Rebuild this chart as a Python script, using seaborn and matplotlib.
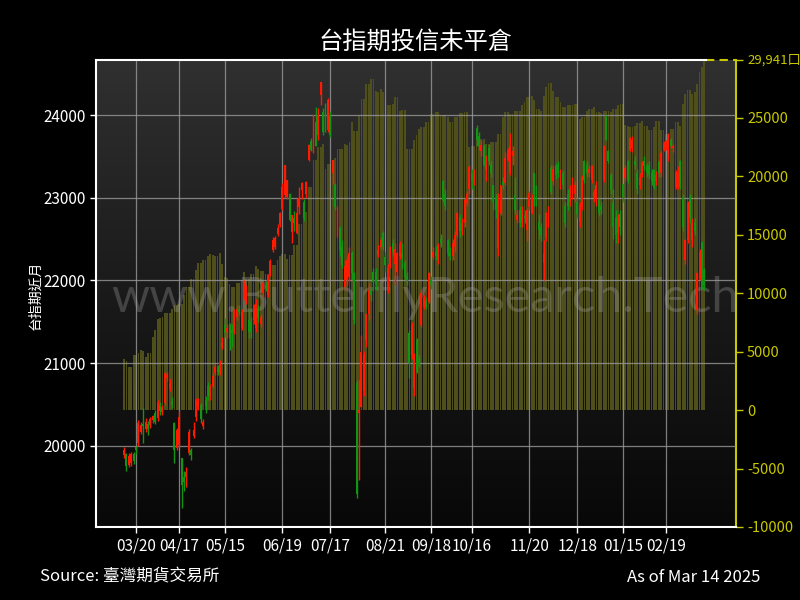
import numpy as np
import pandas as pd
import matplotlib
matplotlib.use("Agg")
import matplotlib.pyplot as plt
from matplotlib.colors import LinearSegmentedColormap
import seaborn as sns

# trading days of TAIEX futures, 2024-03-13 .. 2025-03-14
holidays = ["2024-04-04", "2024-04-05", "2024-05-01", "2024-06-10", "2024-07-24", "2024-07-25",
            "2024-09-17", "2024-10-02", "2024-10-03", "2024-10-10", "2024-10-31", "2025-01-01",
            "2025-01-23", "2025-01-24", "2025-01-27", "2025-01-28", "2025-01-29", "2025-01-30",
            "2025-01-31", "2025-02-28"]
tick_dates = ["2024-03-20", "2024-04-17", "2024-05-15", "2024-06-19", "2024-07-17", "2024-08-21",
              "2024-09-18", "2024-10-16", "2024-11-20", "2024-12-18", "2025-01-15", "2025-02-19"]
tick_labels = ["03/20", "04/17", "05/15", "06/19", "07/17", "08/21",
               "09/18", "10/16", "11/20", "12/18", "01/15", "02/19"]

"""台指期近月 OHLC"""
opens = [19890, 19900, 19770, 19800, 19900, 19990, 20040, 20170, 20260, 20200, 20260, 20250, 20310,
         20400, 20340, 20500, 20410, 20520, 20820, 20700, 20540, 20280, 19980, 20010, 19850, 19630, 19630, 19910, 19950, 20120, 20355, 20480, 20500,
         20240, 20560, 20730, 20600, 20720, 20880, 20960, 20880, 21200, 21460, 21380, 21460, 21400, 21380, 21560, 21660, 21420, 21785, 21800, 21520, 21500, 21520,
         21420, 21650, 21480, 21845, 21950, 21830, 22080, 22370, 22400, 22560, 22670, 22870, 23030, 23010, 23050, 22590, 22760, 22575, 22890,
         23090, 22950, 23050, 23460, 23680, 23560, 23920, 23760, 24240, 24040, 24100, 23820, 24000, 23295, 23150, 22570, 22635, 22400, 21925, 22000, 22045,
         22330, 22090, 20760, 20400, 20475, 20660, 21280, 21600, 21880, 22100, 22100, 22310, 22410, 22570, 22290, 21925, 22170, 22450, 22200, 22100, 22300, 22330,
         22210, 22050, 21360, 21100, 20700, 21280, 21050, 21460, 21680, 21760, 21745, 22000, 22290, 22350, 22250, 22500, 23200, 23050, 22490, 22350,
         22300, 22400, 22550, 22770, 22600, 22700, 22940, 23110, 23300, 23200, 23840, 23750, 23560, 23620, 23340, 23600, 23400, 23150, 23000,
         22390, 22810, 23200, 23175, 23460, 23295, 23500, 23030, 22730, 22850, 22700, 22780, 22610, 22890, 22820, 23300, 23100, 22710, 22650, 22210, 22530,
         22700, 23355, 23200, 23380, 23400, 23130, 23300, 22900, 23050, 22950, 23010, 23050, 22950, 22710, 22890, 23440, 23400, 23300, 23210, 23010, 23000, 22970,
         22900, 23210, 23980, 23560, 23270, 22940, 22750, 22570, 22800, 23170, 23235, 23440, 23580, 23600, 23450,
         23300, 23150, 23270, 23450, 23380, 23400, 23300, 23335, 23200, 23430, 23295, 23580, 23600, 23520, 23700, 23600, 23130, 23130, 23440,
         23000, 22250, 22490, 23010, 22490, 22700, 21640, 22030, 22450, 22130]
highs = [19990, 19920, 19920, 19930, 19930, 20000, 20320, 20290, 20460, 20340, 20300, 20350, 20380,
         20440, 20560, 20530, 20500, 20900, 20900, 20810, 20590, 20290, 20220, 20420, 19855, 19700, 19750, 20200, 19980, 20290, 20580, 20580, 20520,
         20330, 20600, 20770, 20750, 20880, 20990, 20980, 21040, 21320, 21550, 21470, 21490, 21480, 21650, 21700, 21700, 21650, 22000, 21950, 21650, 21560, 21720,
         21780, 21700, 21600, 21990, 21990, 22080, 22260, 22520, 22540, 22680, 22830, 23180, 23400, 23220, 23060, 22790, 22840, 23000, 23130,
         23190, 22980, 23200, 23650, 23720, 24000, 24100, 24080, 24400, 24080, 24150, 24200, 24050, 23460, 23180, 22900, 22660, 22490, 22250, 22300, 22400,
         22360, 22100, 20800, 20800, 21340, 21150, 21600, 21970, 21920, 22150, 22150, 22430, 22520, 22600, 22340, 22200, 22420, 22500, 22450, 22340, 22480, 22450,
         22250, 22100, 21400, 21500, 21120, 21300, 21100, 21880, 21820, 21800, 22100, 22050, 22400, 22420, 22450, 22560, 23210, 23100, 22500, 22400,
         22500, 22600, 22830, 22800, 22760, 23000, 23080, 23400, 23350, 23350, 23880, 23800, 23700, 23650, 23520, 23650, 23450, 23150, 23050,
         23060, 23160, 23250, 23550, 23600, 23780, 23620, 23250, 22850, 22900, 22900, 22850, 22880, 23080, 23050, 23300, 23150, 22800, 22700, 22490, 22830,
         22900, 23400, 23400, 23420, 23450, 23350, 23330, 22950, 23100, 23150, 23250, 23200, 23000, 22950, 23270, 23460, 23450, 23400, 23400, 23100, 23200, 23000,
         22950, 23640, 24000, 23580, 23300, 23100, 22850, 22800, 22850, 23170, 23400, 23460, 23730, 23750, 23500,
         23350, 23300, 23450, 23500, 23420, 23450, 23350, 23350, 23320, 23460, 23560, 23680, 23700, 23780, 23720, 23650, 23330, 23380, 23460,
         23050, 22500, 22960, 23050, 22750, 22750, 22100, 22380, 22480, 22150]
lows = [19850, 19700, 19740, 19760, 19780, 19900, 20000, 20140, 20040, 20170, 20130, 20220, 20280,
        20260, 20300, 20380, 20380, 20500, 20780, 20660, 20460, 19790, 19950, 19990, 19250, 19450, 19500, 19890, 19830, 20100, 20300, 20440, 20280,
        20200, 20400, 20560, 20560, 20700, 20860, 20860, 20860, 21170, 21320, 21300, 21160, 21200, 21350, 21520, 21580, 21400, 21760, 21720, 21300, 21300, 21480,
        21380, 21500, 21440, 21800, 21870, 21800, 22050, 22350, 22380, 22540, 22650, 22850, 23000, 22990, 22720, 22450, 22600, 22560, 22800,
        22990, 22720, 23000, 23450, 23560, 23540, 23620, 23700, 24120, 23760, 23800, 23800, 23740, 23170, 22850, 22520, 22300, 22150, 21880, 21950, 21990,
        22000, 21480, 19370, 19590, 20475, 20600, 21200, 21520, 21750, 21880, 21880, 22290, 22380, 22370, 22100, 21850, 22150, 22300, 21950, 22050, 22260, 22140,
        22000, 21950, 20820, 21050, 20600, 20880, 20950, 21440, 21650, 21650, 21730, 21900, 22260, 22250, 22200, 22400, 22950, 22850, 22300, 22250,
        22250, 22350, 22520, 22530, 22550, 22650, 22900, 23050, 23100, 23160, 23620, 23580, 23500, 23380, 23200, 23400, 23250, 22850, 22750,
        22300, 22790, 23100, 23150, 23450, 23280, 23400, 22800, 22700, 22650, 22650, 22700, 22480, 22850, 22800, 22900, 22900, 22500, 22480, 22000, 22480,
        22650, 23050, 23150, 23230, 23250, 23100, 23100, 22650, 22850, 22900, 22990, 22950, 22750, 22650, 22850, 23180, 23250, 23250, 23180, 22950, 22900, 22780,
        22800, 23190, 23700, 23420, 23050, 22500, 22450, 22450, 22550, 22950, 23200, 23180, 23560, 23550, 23350,
        23050, 23100, 23250, 23330, 23250, 23230, 23150, 23100, 23150, 23250, 23250, 23560, 23580, 23450, 23600, 23550, 23100, 23100, 23100,
        22600, 22200, 22450, 22700, 22400, 22550, 21600, 22000, 21900, 21890]
closes = [19950, 19760, 19880, 19900, 19820, 19950, 20280, 20250, 20240, 20290, 20200, 20330, 20360,
          20290, 20520, 20420, 20470, 20880, 20860, 20765, 20500, 19950, 20190, 20350, 19530, 19560, 19690, 20170, 19890, 20190, 20555, 20540, 20330,
          20290, 20480, 20600, 20730, 20840, 20960, 20900, 21020, 21240, 21360, 21420, 21300, 21360, 21620, 21650, 21620, 21620, 21970, 21900, 21380, 21380, 21700,
          21720, 21550, 21560, 21965, 21900, 22060, 22240, 22490, 22510, 22640, 22810, 23130, 23400, 23210, 22730, 22790, 22690, 22815, 23000,
          23175, 22750, 23190, 23640, 23580, 24000, 23620, 24000, 24400, 23800, 23820, 24180, 23760, 23460, 22890, 22890, 22370, 22190, 22170, 22250, 22330,
          22090, 21520, 19420, 20430, 21140, 21100, 21600, 21880, 21830, 21985, 21960, 22370, 22490, 22410, 22190, 22150, 22410, 22350, 22380, 22330, 22440, 22290,
          22045, 22000, 21000, 21460, 21100, 20900, 20980, 21850, 21790, 21680, 22090, 21950, 22350, 22300, 22430, 22450, 22970, 22900, 22330, 22300,
          22450, 22550, 22810, 22600, 22700, 22970, 23050, 23375, 23200, 23290, 23700, 23620, 23640, 23400, 23500, 23450, 23300, 22950, 22850,
          23050, 23150, 23150, 23480, 23580, 23620, 23560, 22850, 22790, 22700, 22850, 22750, 22850, 23060, 23000, 23050, 22950, 22610, 22550, 22330, 22815,
          22880, 23075, 23350, 23280, 23300, 23300, 23150, 22700, 22900, 23100, 23210, 23150, 22800, 22910, 23250, 23210, 23300, 23350, 23380, 23070, 23150, 22815,
          22850, 23620, 23700, 23440, 23090, 22650, 22550, 22770, 22650, 23010, 23355, 23210, 23720, 23700, 23400,
          23100, 23250, 23420, 23380, 23300, 23280, 23200, 23130, 23280, 23300, 23540, 23660, 23680, 23760, 23620, 23620, 23310, 23300, 23130,
          22650, 22490, 22940, 22770, 22700, 22600, 22090, 22350, 21925, 21950]

"""投信未平倉 (口)"""
oi = [4355, 4200, 3700, 3700, 4700, 4700, 4890, 5120, 5030, 4550, 4840, 4840, 6260,
      6830, 7830, 7900, 7970, 8260, 8310, 8310, 8680, 8970, 8970, 9110, 9110, 9820, 10530, 10530, 11240, 11240, 11960, 12580, 12580,
      12810, 12810, 13150, 13380, 13240, 13150, 13150, 13440, 12520, 11390, 11330, 10820, 10530, 10530, 10880, 10880, 11100, 11810, 11240, 11240, 11670, 11670,
      12300, 12100, 11900, 11900, 11670, 11670, 12240, 12380, 12380, 12810, 13150, 13380, 13380, 12950, 13240, 13240, 14090, 14090, 15940,
      15940, 16930, 16930, 19070, 19070, 21350, 21350, 22490, 22490, 22770, 20640, 21070, 21070, 20920, 21580, 22350, 22350, 22350, 22770, 22700, 22910,
      24620, 23910, 23910, 25190, 26640, 26640, 27900, 27900, 28330, 28330, 27330, 27180, 27470, 27180, 26330, 26050, 26050, 26190, 26760, 26760, 25620, 25700,
      25700, 22350, 22350, 22350, 23060, 23550, 24050, 24190, 24190, 24620, 24620, 25330, 25330, 25480, 25480, 25200, 25200, 25200, 25050, 24620,
      24620, 25050, 25050, 25390, 25390, 25480, 25480, 22490, 22620, 22620, 23340, 23340, 23200, 23200, 22770, 22770, 22910, 22910, 22910,
      23620, 23620, 25050, 25480, 25480, 25330, 25330, 25620, 25620, 25620, 26050, 26330, 26760, 26760, 26900, 26480, 25760, 25760, 25620, 26900, 27610,
      27980, 27980, 27270, 26760, 26760, 26330, 25900, 25900, 26130, 26130, 26130, 26190, 26190, 24900, 25100, 25100, 25620, 25760, 25760, 25900, 25480, 25480,
      25390, 25620, 25620, 25540, 25480, 25760, 25760, 26050, 26190, 26190, 24420, 24280, 24250, 24250, 24330,
      24530, 24530, 24710, 24330, 24330, 23970, 23970, 24250, 24760, 24760, 23970, 23970, 23630, 23630, 24050, 24050, 24620, 24620, 24330,
      26190, 27040, 27380, 27380, 27040, 27180, 27900, 28900, 29300, 29941]

dates = pd.bdate_range("2024-03-13", "2025-03-14")
dates = dates[~dates.isin(pd.to_datetime(holidays))]
n = len(closes)
x = np.arange(n)
tick_pos = [int(dates.searchsorted(pd.Timestamp(d))) for d in tick_dates]

o = np.array(opens, dtype=float)
h = np.array(highs, dtype=float)
l = np.array(lows, dtype=float)
c = np.array(closes, dtype=float)

plt.rcParams['font.family'] = ['Noto Sans CJK TC', 'DejaVu Sans']
yellow = "#c8c800"

fig = plt.figure(figsize=(8, 6), dpi=100, facecolor="black")
rect = [0.12, 0.1217, 0.80, 0.7783]

# gradient plot background
bg = fig.add_axes(rect, zorder=0)
cmap = LinearSegmentedColormap.from_list("bg", ["#303030", "#1a1a1a", "#080808"])
bg.imshow(np.linspace(0, 1, 256).reshape(-1, 1), aspect="auto", cmap=cmap, extent=[0, 1, 0, 1])
bg.axis("off")

# OI bars (right axis)
ax2 = fig.add_axes(rect, zorder=1)
ax2.patch.set_visible(False)
df = pd.DataFrame({"x": x, "oi": oi})
sns.barplot(data=df, x="x", y="oi", native_scale=True, color="#4f4f1b", saturation=1,
            width=0.75, errorbar=None, linewidth=0, ax=ax2)
xmin, xmax = -11.7, 255.2
ax2.set_xlim(xmin, xmax)
ax2.set_ylim(-10000, 29941)
ax2.yaxis.tick_right()
ax2.set_yticks([-10000, -5000, 0, 5000, 10000, 15000, 20000, 25000, 29941])
ax2.set_yticklabels(["-10000", "-5000", "0", "5000", "10000", "15000", "20000", "25000", "29,941口"])
ax2.tick_params(axis="y", colors=yellow, labelcolor=yellow, labelsize=10.5, length=5, width=1, pad=3)
ax2.get_yticklabels()[-1].set_fontsize(9.5)
ax2.tick_params(axis="x", bottom=False, labelbottom=False)
ax2.set_xlabel("")
ax2.set_ylabel("")
for s in ["left", "top", "bottom"]:
    ax2.spines[s].set_visible(False)
ax2.spines["right"].set_color(yellow)
ax2.spines["right"].set_linewidth(1.5)
ax2.plot([n - 0.5, xmax], [29941, 29941], color=yellow, lw=1.5, ls=(0, (4, 2.5)), clip_on=False)

# candles (left axis)
ax = fig.add_axes(rect, zorder=2)
ax.patch.set_visible(False)
up = c >= o
cols = np.where(up, "#ff1a00", "#139413")
ax.vlines(x, l, h, colors=cols, linewidth=1.0, zorder=3)
body = np.maximum(np.abs(c - o), 15)
ax.bar(x, body, bottom=np.minimum(o, c), width=0.8, color=cols, linewidth=0, zorder=4)
ax.set_xlim(xmin, xmax)
ax.set_ylim(19021, 24665)
ax.set_yticks([20000, 21000, 22000, 23000, 24000])
ax.set_xticks(tick_pos)
ax.set_xticklabels(tick_labels)
ax.tick_params(colors="white", labelcolor="white", labelsize=11, length=4, width=1)
ax.grid(True, color="#9a9a9a", linewidth=0.9, alpha=0.8)
ax.set_axisbelow(True)
for s in ["left", "bottom", "top"]:
    ax.spines[s].set_color("white")
    ax.spines[s].set_linewidth(1.5)
ax.spines["right"].set_visible(False)
ax.spines["top"].set_bounds(xmin, n - 0.5)

ax.text(0.514, 0.49, "www.ButterflyResearch.Tech", transform=ax.transAxes, ha="center", va="center",
        fontsize=35, color="#a0a0a0", alpha=0.32, family="Lato", zorder=2)

fig.text(0.52, 0.93, "台指期投信未平倉", ha="center", va="center", color="white", fontsize=17.5)
fig.text(0.044, 0.508, "台指期近月", rotation=90, ha="center", va="center", color="white", fontsize=10)
fig.text(0.05, 0.038, "Source: 臺灣期貨交易所", ha="left", va="center", color="white", fontsize=12)
fig.text(0.95, 0.038, "As of Mar 14 2025", ha="right", va="center", color="white", fontsize=12)

plt.savefig("out.png", dpi=100, facecolor="black")
